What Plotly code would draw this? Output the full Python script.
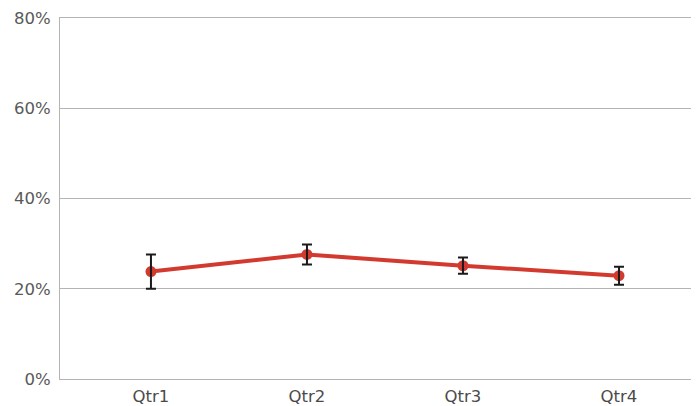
import plotly.graph_objects as go

categories = ["Qtr1", "Qtr2", "Qtr3", "Qtr4"]
values = [0.238, 0.276, 0.251, 0.229]
errors = [0.038, 0.022, 0.018, 0.020]
y_ticks = [0, 0.2, 0.4, 0.6, 0.8]

fig = go.Figure()
fig.add_trace(go.Scatter(
    x=categories, y=values, mode="lines+markers",
    line=dict(color="#d33a2f", width=4),
    marker=dict(color="#d33a2f", size=11),
    showlegend=False, hoverinfo="skip",
))
fig.add_trace(go.Scatter(
    x=categories, y=values, mode="markers",
    marker=dict(color="rgba(0,0,0,0)", size=1),
    error_y=dict(type="data", array=errors, visible=True, color="#1a1a1a", thickness=2, width=5),
    showlegend=False,
))

fig.update_layout(
    width=699, height=406,
    margin=dict(l=52, r=10, t=10, b=35),
    plot_bgcolor="white", paper_bgcolor="white",
    font=dict(family="DejaVu Sans, sans-serif", size=16.5, color="#595959"),
    xaxis=dict(
        type="category", range=[-0.583, 3.5], showgrid=False,
        showline=True, mirror=True, linecolor="#b4b4b4", linewidth=1,
        ticks="", tickfont=dict(size=16.5, color="#4a4a4a"),
        zeroline=False, automargin=False, ticklabelstandoff=2,
    ),
    yaxis=dict(
        range=[0, 0.8], tickvals=y_ticks, tickformat=".0%",
        showgrid=True, gridcolor="#b4b4b4", gridwidth=1,
        showline=True, linecolor="#b4b4b4", linewidth=1,
        zeroline=False, ticks="", ticklabelstandoff=5,
        tickfont=dict(size=16.5, color="#595959"), automargin=False,
    ),
)

fig.write_html("out.html")
